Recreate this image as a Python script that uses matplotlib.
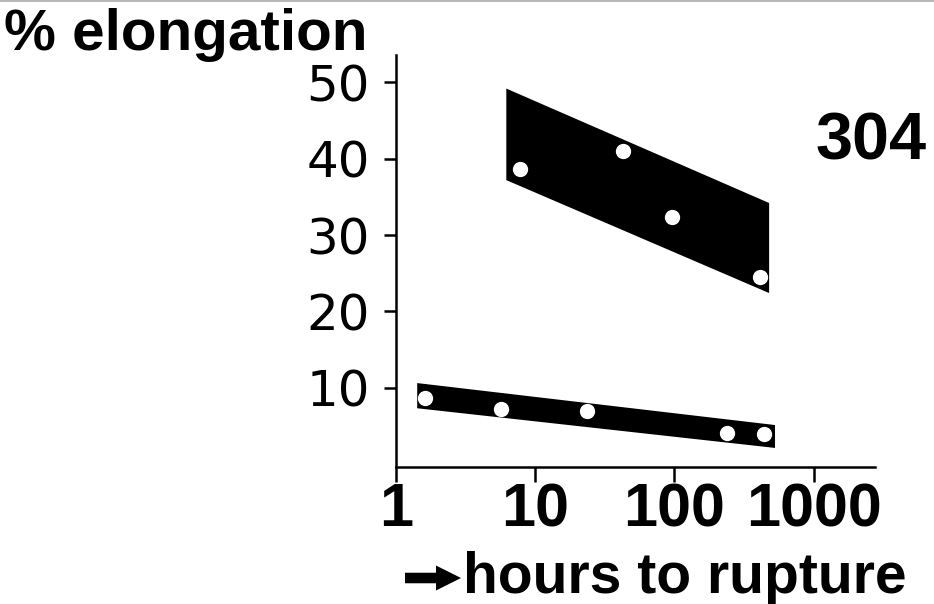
import matplotlib
matplotlib.use("Agg")
import matplotlib.pyplot as plt
from matplotlib.lines import Line2D
from matplotlib.patches import FancyArrowPatch

# upper band (long-time creep), corners
upper_x = [6.2, 479]
upper_top = [49.2, 34.2]
upper_bottom = [37.2, 22.4]
upper_pts_x = [7.8, 43, 96, 413]
upper_pts_y = [38.7, 41.0, 32.4, 24.5]

# lower band
lower_x = [1.42, 528]
lower_top = [10.6, 5.1]
lower_bottom = [7.3, 2.1]
lower_pts_x = [1.62, 5.7, 23.5, 237, 441]
lower_pts_y = [8.7, 7.2, 7.0, 4.1, 3.9]

x_ticks = [1, 10, 100, 1000]
y_ticks = [10, 20, 30, 40, 50]

fig = plt.figure(figsize=(9.34, 6.04), dpi=100)
ax = fig.add_axes([396 / 934, 1 - 467 / 604, (875 - 396) / 934, (467 - 55) / 604])

for xs, top, bot in [(upper_x, upper_top, upper_bottom), (lower_x, lower_top, lower_bottom)]:
    ax.fill([xs[0], xs[1], xs[1], xs[0]], [top[0], top[1], bot[1], bot[0]],
            color="black", lw=0)

ax.plot(upper_pts_x, upper_pts_y, "o", ms=10, mfc="white", mec="white", zorder=3)
ax.plot(lower_pts_x, lower_pts_y, "o", ms=10, mfc="white", mec="white", zorder=3)

ax.set_xscale("log")
ax.set_xlim(1.08, 2760)
ax.set_ylim(-0.4, 53.6)

ax.spines["top"].set_visible(False)
ax.spines["right"].set_visible(False)
for s in ["left", "bottom"]:
    ax.spines[s].set_linewidth(1.8)

ax.set_xticks(x_ticks)
ax.set_xticklabels([str(v) for v in x_ticks], fontfamily="Liberation Sans",
                   fontweight="bold", fontsize=44)
ax.xaxis.set_minor_locator(matplotlib.ticker.NullLocator())
ax.tick_params(axis="x", length=11, width=1.8, pad=0)

ax.set_yticks(y_ticks)
ax.set_yticklabels([str(v) for v in y_ticks], fontfamily="DejaVu Sans", fontsize=36)
ax.tick_params(axis="y", length=9, width=1.8, pad=10)

fig.text(4 / 934, 1 - 50 / 604, "% elongation", fontfamily="Liberation Sans",
         fontweight="bold", fontsize=42, va="baseline", ha="left")
fig.text(927 / 934, 1 - 160 / 604, "304", fontfamily="Liberation Sans",
         fontweight="bold", fontsize=48, va="baseline", ha="right")
fig.text(463 / 934, 1 - 593 / 604, "hours to rupture", fontfamily="Liberation Sans",
         fontweight="bold", fontsize=41, va="baseline", ha="left")

# heavy arrow in front of the x label (inches from bottom-left)
arrow = FancyArrowPatch((4.05, 0.26), (4.61, 0.26), transform=fig.dpi_scale_trans,
                        arrowstyle="simple,head_length=0.9,head_width=0.9,tail_width=0.38",
                        mutation_scale=20, color="black", lw=0,
                        shrinkA=0, shrinkB=0)
fig.add_artist(arrow)

# faint scan edge along the top
fig.add_artist(Line2D([0, 1], [0.998, 0.998], transform=fig.transFigure,
                      color="#aaaaaa", lw=1.2))

fig.savefig("out.png", dpi=100)
